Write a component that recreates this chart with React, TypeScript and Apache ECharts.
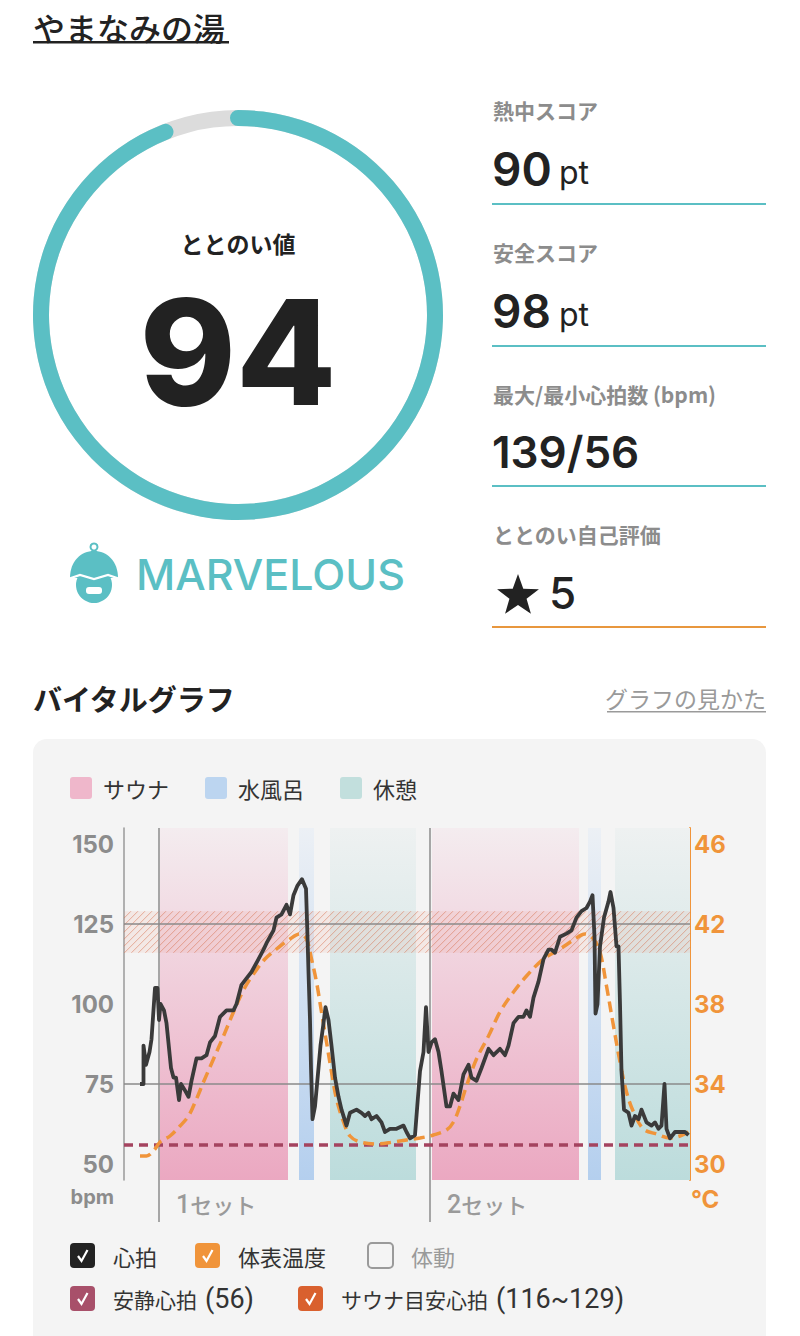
import React, { useEffect, useRef } from 'react';
import * as echarts from 'echarts';

// ---------- data ----------
const facilityName = 'やまなみの湯';
const totonoiValue = 94;
const totonoiRank = 'MARVELOUS';
const scoreLabels = ['熱中スコア', '安全スコア', '最大/最小心拍数 (bpm)', 'ととのい自己評価'];
const scoreValues = ['90', '98', '139/56', '5'];
const scoreUnits = ['pt', 'pt', '', ''];

const bpmTicks = [50, 75, 100, 125, 150];
const tempTicks = [30, 34, 38, 42, 46];
const zoneNames = ['サウナ', '水風呂', '休憩'];
const saunaZones = [[7.2, 32.8], [61.6, 91.0]];
const waterZones = [[35.0, 38.0], [92.8, 95.4]];
const restZones = [[41.2, 58.4], [98.2, 113.2]];
const setStarts = [7.0, 61.2];
const setNumbers = ['1', '2'];
const setWord = 'セット';
const restingHR = 56;
const targetHR = [116, 129];
const guideLines = [75, 125];

// [minutes, bpm]
const hrData = [
  [3.2, 75], [3.9, 75], [3.9, 87], [4.4, 81], [5.1, 85], [5.5, 89], [6.2, 105], [6.7, 105], [7.0, 95], [7.3, 100],
  [8.0, 98], [8.5, 94], [9.4, 80], [9.9, 77], [10.4, 77], [11.0, 70], [11.4, 75], [12.2, 73], [12.9, 71], [13.5, 76],
  [14.5, 83], [15.5, 83], [16.5, 84], [17.2, 88], [18.2, 90], [19.2, 96], [20.5, 98], [21.9, 98], [22.5, 100], [23.5, 106],
  [24.5, 108], [25.5, 110], [26.9, 114], [27.9, 117], [28.5, 119], [29.9, 123], [30.5, 127], [31.5, 128], [32.5, 131], [33.2, 128],
  [33.9, 134], [34.7, 137], [35.6, 139], [36.4, 136], [36.7, 121], [36.9, 110], [37.2, 95], [37.4, 80], [37.7, 64], [38.2, 68],
  [38.9, 80], [39.3, 87], [39.9, 94], [40.3, 99], [40.9, 95], [41.5, 87], [42.2, 77], [42.9, 71], [43.5, 67], [44.5, 62],
  [45.2, 66], [46.5, 67], [47.5, 66], [48.2, 65], [48.9, 66], [49.5, 64], [50.5, 65], [51.5, 63], [52.2, 60], [53.2, 61],
  [54.5, 61], [55.9, 62], [56.5, 60], [57.2, 58], [58.2, 59], [59.2, 79], [59.9, 85], [60.4, 99], [60.9, 85], [61.5, 88],
  [62.2, 89], [62.9, 85], [63.5, 79], [64.5, 68], [65.2, 68], [65.9, 72], [66.9, 70], [67.9, 78], [68.9, 81], [69.5, 77],
  [70.5, 76], [71.5, 80], [72.9, 86], [73.9, 84], [75.2, 86], [76.2, 84], [76.9, 87], [77.9, 94], [78.9, 96], [79.9, 96],
  [80.5, 98], [81.2, 96], [81.9, 102], [82.9, 107], [83.9, 114], [84.9, 117], [85.5, 117], [86.2, 116], [87.2, 121], [88.5, 122],
  [89.5, 123], [90.5, 127], [91.5, 129], [92.5, 130], [93.2, 132], [93.7, 134], [94.1, 121], [94.3, 97], [94.7, 100], [95.2, 118],
  [96.0, 127], [96.9, 132], [97.3, 135], [97.9, 130], [98.5, 118], [98.9, 118], [99.2, 100], [99.5, 79], [100.0, 67], [100.9, 66],
  [101.5, 62], [102.2, 65], [102.9, 64], [103.5, 67], [104.5, 63], [105.5, 62], [106.2, 63], [106.9, 61], [107.5, 62], [108.1, 75],
  [108.5, 61], [109.2, 58], [110.2, 60], [111.2, 60], [112.2, 60], [112.9, 59],
];

// [minutes, °C]
const tempData = [
  [3.2, 30.4], [4.5, 30.4], [6.2, 30.75], [7.2, 31.1], [9.2, 31.4], [11.2, 31.9], [12.9, 32.4], [14.5, 33.25], [15.9, 34.1],
  [17.9, 35.25], [19.9, 36.4], [21.9, 37.6], [23.9, 38.7], [25.9, 39.5], [28.2, 40.25], [30.5, 40.75], [33.2, 41.25],
  [35.2, 41.5], [36.5, 41.25], [37.5, 40.25], [38.5, 39.1], [39.5, 37.6], [40.5, 36.1], [41.5, 34.6], [42.5, 33.25],
  [43.9, 32.1], [45.2, 31.4], [47.2, 31.1], [50.5, 31.0], [53.9, 31.1], [56.5, 31.2], [59.2, 31.3], [61.9, 31.45],
  [64.5, 31.7], [65.9, 32.1], [67.2, 32.9], [68.5, 33.9], [70.5, 35.25], [72.9, 36.4], [75.2, 37.6], [77.9, 38.6],
  [80.5, 39.4], [83.9, 40.25], [87.2, 40.75], [89.9, 41.2], [92.2, 41.5], [93.9, 41.25], [95.2, 40.6], [96.5, 38.9],
  [97.9, 36.9], [99.2, 35.1], [100.5, 33.6], [101.9, 32.6], [103.9, 31.75], [106.5, 31.5], [109.2, 31.3], [111.2, 31.4],
  [112.9, 31.6],
];

const checkLegend1 = ['心拍', '体表温度', '体動'];
const checkLegend2 = [['安静心拍', '(56)'], ['サウナ目安心拍', '(116~129)']];

// ---------- style ----------
const JP = '"Noto Sans CJK JP", "Noto Sans", sans-serif';
const LAT = 'Inter, "Noto Sans CJK JP", sans-serif';
const ROB = 'Roboto, "Noto Sans", sans-serif';
const TEAL = '#5bbfc4';
const ORANGE = '#f0943a';

echarts.graphic.registerShape(
  'hatdome',
  echarts.graphic.extendPath('M70 578 C70 561 81 551 94 551 C107 551 118 561 118 578 Z', {})
);

const txt = (text: string, x: number, y: number, o: any = {}) => ({
  type: 'text',
  x,
  y,
  z: 10,
  style: {
    text,
    fill: o.fill || '#222',
    fontSize: o.size || 20,
    fontWeight: o.weight || 'normal',
    fontFamily: o.family || JP,
    align: o.align || 'left',
    textAlign: o.align || 'left',
    verticalAlign: 'middle',
    textVerticalAlign: 'middle',
    ...(o.rich ? { rich: o.rich } : {}),
  },
});

const grad = (top: string, bottom: string) =>
  new echarts.graphic.LinearGradient(0, 0, 0, 1, [
    { offset: 0, color: top },
    { offset: 1, color: bottom },
  ]);

function buildGraphic() {
  const g: any[] = [];
  // card
  g.push({ type: 'rect', z: -5, shape: { x: 33, y: 739, width: 733, height: 640, r: 14 }, style: { fill: '#f4f4f4' } });
  // title
  g.push(txt(facilityName, 33, 27, { size: 32, weight: 500 }));
  g.push({ type: 'rect', z: 10, shape: { x: 33, y: 41, width: 196, height: 2.5 }, style: { fill: '#222' } });
  // gauge inner texts
  g.push(txt('ととのい値', 238, 243, { size: 23, weight: 'bold', align: 'center' }));
  g.push(txt(String(totonoiValue), 238, 352, { size: 146, weight: 800, family: LAT, align: 'center' }));
  // icon
  g.push({ type: 'circle', z: 10, shape: { cx: 94, cy: 547, r: 3.5 }, style: { fill: 'none', stroke: TEAL, lineWidth: 2 } });
  g.push({ type: 'circle', z: 10, shape: { cx: 94, cy: 585, r: 18 }, style: { fill: TEAL } });
  g.push({ type: 'hatdome', z: 11, style: { fill: TEAL } });
  g.push({
    type: 'polyline', z: 12,
    shape: { points: [[68, 579], [80, 575], [94, 579], [108, 575], [120, 579]] },
    style: { stroke: '#fff', lineWidth: 2.2, fill: 'none' },
  });
  g.push({ type: 'rect', z: 12, shape: { x: 86, y: 587, width: 16, height: 7, r: 3 }, style: { fill: '#fff' } });
  g.push(txt(totonoiRank, 136, 574, { size: 43, weight: 500, family: LAT, fill: TEAL }));

  // score panel
  const labelY = [110, 252, 394, 534];
  const valueY = [169, 311, 452, 593];
  const lineY = [204, 346, 486, 627];
  scoreLabels.forEach((l, i) => {
    g.push(txt(l, 493, labelY[i], { size: 21, weight: 'bold', fill: '#8c8c8c' }));
    const isStar = i === 3;
    if (isStar) {
      const pts: number[][] = [];
      for (let k = 0; k < 10; k++) {
        const r = k % 2 === 0 ? 22 : 9;
        const a = -Math.PI / 2 + (k * Math.PI) / 5;
        pts.push([518 + r * Math.cos(a), 596 + r * Math.sin(a)]);
      }
      g.push({ type: 'polygon', z: 10, shape: { points: pts }, style: { fill: '#222' } });
      g.push(txt(scoreValues[i], 549, valueY[i], { size: 44, weight: 500, family: LAT }));
    } else {
      g.push(txt(scoreValues[i], 492, valueY[i], { size: i === 2 ? 44 : 46, weight: 600, family: LAT }));
      if (scoreUnits[i]) g.push(txt(scoreUnits[i], 559, valueY[i] + 3, { size: 32, weight: 400, family: LAT }));
    }
    g.push({
      type: 'rect', z: 10,
      shape: { x: 492, y: lineY[i] - 1, width: 274, height: 2 },
      style: { fill: i === 3 ? '#e8973e' : TEAL },
    });
  });

  // section heading
  g.push(txt('バイタルグラフ', 33, 698, { size: 29, weight: 'bold' }));
  g.push(txt('グラフの見かた', 766, 698, { size: 23, fill: '#9a9a9a', align: 'right' }));
  g.push({ type: 'rect', z: 10, shape: { x: 607, y: 711, width: 159, height: 1.5 }, style: { fill: '#9a9a9a' } });

  // zone legend
  const zoneColors = ['#efb7cb', '#bcd5f0', '#c2dfdd'];
  const zoneX = [70, 205, 340];
  zoneNames.forEach((n, i) => {
    g.push({ type: 'rect', z: 10, shape: { x: zoneX[i], y: 777, width: 22, height: 22, r: 3 }, style: { fill: zoneColors[i] } });
    g.push(txt(n, zoneX[i] + 33, 788, { size: 22, fill: '#333' }));
  });

  // axis unit labels
  g.push(txt('bpm', 114, 1197, { size: 20, weight: 'bold', fill: '#8c8c8c', family: LAT, align: 'right' }));
  g.push(txt('°C', 691, 1199, { size: 24, weight: 'bold', fill: ORANGE, family: LAT }));

  // check legends
  const box = (x: number, y: number, fill: string | null, checked: boolean) => {
    g.push({
      type: 'rect', z: 10,
      shape: { x, y, width: 25, height: 25, r: 4 },
      style: fill ? { fill } : { fill: 'none', stroke: '#9a9a9a', lineWidth: 2 },
    });
    if (checked)
      g.push({
        type: 'polyline', z: 11,
        shape: { points: [[x + 8, y + 13], [x + 11.5, y + 18], [x + 17.5, y + 7]] },
        style: { stroke: '#fff', lineWidth: 2.2, fill: 'none' },
      });
  };
  const r1 = [
    { x: 70, fill: '#222', checked: true, color: '#333' },
    { x: 195, fill: ORANGE, checked: true, color: '#333' },
    { x: 368, fill: null, checked: false, color: '#9a9a9a' },
  ];
  checkLegend1.forEach((l, i) => {
    box(r1[i].x, 1243, r1[i].fill, r1[i].checked);
    g.push(txt(l, r1[i].x + 43, 1256, { size: 22, fill: r1[i].color }));
  });
  const r2 = [
    { x: 70, fill: '#a8506a' },
    { x: 298, fill: '#d9602e' },
  ];
  const legendRich = {
    a: { fontSize: 21, fontFamily: JP, fill: '#333', color: '#333' },
    s: { fontSize: 21, fontFamily: JP, fill: '#333', color: '#333', width: 8 },
    b: { fontSize: 27, fontFamily: ROB, fill: '#333', color: '#333' },
  };
  checkLegend2.forEach((l, i) => {
    box(r2[i].x, 1286, r2[i].fill, true);
    g.push(txt(`{a|${l[0]}}{s| }{b|${l[1]}}`, r2[i].x + 43, 1299, { size: 21, fill: '#333', rich: legendRich }));
  });
  return g;
}

function buildOption() {
  const zoneArea = (zones: number[][], c: any) => zones.map((z) => [{ xAxis: z[0], itemStyle: { color: c } }, { xAxis: z[1] }]);
  return {
    animation: false,
    backgroundColor: '#ffffff',
    graphic: buildGraphic(),
    grid: { left: 124, top: 828, width: 566, height: 352, containLabel: false },
    xAxis: { type: 'value', min: 0, max: 113.2, show: false },
    yAxis: [
      {
        type: 'value', min: 45, max: 155, position: 'left',
        axisLine: { show: true, onZero: false, lineStyle: { color: '#9a9a9a', width: 1.5 } },
        axisTick: { show: false }, splitLine: { show: false },
        axisLabel: { customValues: bpmTicks, color: '#8c8c8c', fontSize: 24, fontWeight: 'bold', fontFamily: LAT, margin: 10 },
      },
      {
        type: 'value', min: 29.2, max: 46.8, position: 'right',
        axisLine: { show: true, onZero: false, lineStyle: { color: ORANGE, width: 2 } },
        axisTick: { show: false }, splitLine: { show: false },
        axisLabel: { customValues: tempTicks, color: ORANGE, fontSize: 24, fontWeight: 'bold', fontFamily: LAT, margin: 4 },
      },
    ],
    series: [
      {
        type: 'line', data: [], z: 1, silent: true,
        markArea: {
          silent: true,
          data: [
            ...zoneArea(saunaZones, grad('#f4ecef', '#eba8c1')),
            ...zoneArea(waterZones, grad('#ecf0f5', '#b4cfee')),
            ...zoneArea(restZones, grad('#eef1f1', '#bcdcdc')),
          ],
        },
      },
      {
        type: 'custom', z: 2, silent: true,
        dimensions: ['t', 'lo', 'hi'],
        encode: { x: 0, y: [1, 2] },
        data: [[0, targetHR[0], targetHR[1]]],
        renderItem: (params: any, api: any) => {
          const cs = params.coordSys;
          const yTop = api.coord([0, api.value(2)])[1];
          const yBot = api.coord([0, api.value(1)])[1];
          const h = yBot - yTop;
          const left = cs.x;
          const right = cs.x + cs.width;
          const children: any[] = [
            { type: 'rect', shape: { x: left, y: yTop, width: cs.width, height: h }, style: { fill: 'rgba(236,150,120,0.12)' } },
          ];
          for (let x0 = left - h; x0 < right; x0 += 7) {
            let x1 = x0, y1 = yBot, x2 = x0 + h, y2 = yTop;
            if (x1 < left) { y1 = yBot - (left - x1); x1 = left; }
            if (x2 > right) { y2 = yTop + (x2 - right); x2 = right; }
            if (x2 <= x1) continue;
            children.push({ type: 'line', shape: { x1, y1, x2, y2 }, style: { stroke: 'rgba(214,105,70,0.5)', lineWidth: 1 } });
          }
          return { type: 'group', children };
        },
      },
      {
        type: 'line', data: [], z: 3, silent: true,
        markLine: {
          silent: true, symbol: 'none', label: { show: false },
          lineStyle: { color: '#8a8a8a', width: 1.5, type: 'solid' },
          data: guideLines.map((v) => ({ yAxis: v })),
        },
      },
      {
        type: 'custom', z: 3, silent: true,
        dimensions: ['t', 'v'],
        encode: { x: 0, y: 1 },
        data: setStarts.map((t) => [t, 100]),
        renderItem: (params: any, api: any) => {
          const cs = params.coordSys;
          const x = api.coord([api.value(0), 100])[0];
          const bottom = cs.y + cs.height;
          return {
            type: 'group',
            children: [
              { type: 'line', shape: { x1: x, y1: cs.y, x2: x, y2: bottom + 42 }, style: { stroke: '#8c8c8c', lineWidth: 1.5 } },
              {
                type: 'text', x: x + 17, y: bottom + 24,
                style: {
                  text: `{n|${setNumbers[params.dataIndex]}}{w|${setWord}}`,
                  rich: {
                    n: { fontSize: 25, fontFamily: ROB, fontWeight: 500, fill: '#9a9a9a', color: '#9a9a9a' },
                    w: { fontSize: 22, fontFamily: JP, fontWeight: 500, fill: '#9a9a9a', color: '#9a9a9a' },
                  },
                  fill: '#9a9a9a', fontSize: 22, fontFamily: JP,
                  align: 'left', textAlign: 'left', verticalAlign: 'middle', textVerticalAlign: 'middle',
                },
              },
            ],
          };
        },
      },
      {
        type: 'line', data: [], z: 4, silent: true,
        markLine: {
          silent: true, symbol: 'none', label: { show: false },
          lineStyle: { color: '#a4435f', width: 3.5, type: [9, 6] },
          data: [{ yAxis: restingHR }],
        },
      },
      {
        name: '体表温度', type: 'line', yAxisIndex: 1, data: tempData, z: 5,
        smooth: 0.35, showSymbol: false, symbol: 'none',
        lineStyle: { color: ORANGE, width: 3.5, type: [11, 6] },
      },
      {
        name: '心拍', type: 'line', data: hrData, z: 6,
        showSymbol: false, symbol: 'none',
        lineStyle: { color: '#3a3a3a', width: 3.8, join: 'round' },
      },
      {
        type: 'gauge', center: [238, 315], radius: 205,
        startAngle: 90, endAngle: -270, min: 0, max: 100,
        axisLine: { roundCap: true, lineStyle: { width: 16, color: [[1, '#dcdcdc']] } },
        progress: { show: true, width: 16, roundCap: true, itemStyle: { color: TEAL } },
        pointer: { show: false }, axisTick: { show: false }, splitLine: { show: false }, axisLabel: { show: false },
        title: { show: false }, detail: { show: false }, anchor: { show: false },
        data: [{ value: totonoiValue }],
      },
    ],
  };
}

export default function App() {
  const ref = useRef<HTMLDivElement>(null);
  useEffect(() => {
    document.body.style.margin = '0';
    const chart = echarts.init(ref.current!, undefined, { renderer: 'svg' });
    chart.setOption(buildOption() as any);
    return () => chart.dispose();
  }, []);
  return <div ref={ref} style={{ width: 800, height: 1336 }} />;
}
